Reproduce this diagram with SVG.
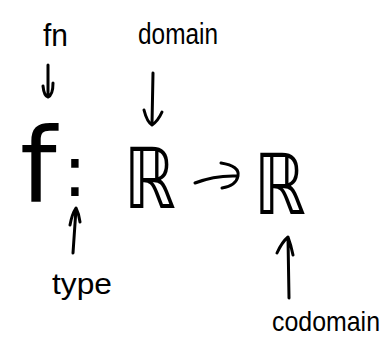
<svg xmlns="http://www.w3.org/2000/svg" width="392" height="344" viewBox="0 0 392 344">
<style>
.lbl{font-family:"Liberation Sans","DejaVu Sans",sans-serif;fill:#000}
.math{font-family:"DejaVu Sans","Liberation Sans",sans-serif;fill:#000}
.stroke{fill:none;stroke:#000;stroke-width:3;stroke-linecap:round;stroke-linejoin:round}
</style>
<rect width="392" height="344" fill="#fff"/>
<g id="label-fn"><text class="lbl" x="43" y="46" font-size="32" textLength="25" lengthAdjust="spacingAndGlyphs">fn</text></g>
<g id="label-domain"><text class="lbl" x="138" y="44" font-size="30" textLength="80" lengthAdjust="spacingAndGlyphs">domain</text></g>
<g id="formula">
<text class="math" x="20" y="202" font-size="104">f</text>
<text class="math" x="75" y="196" font-size="72" text-anchor="middle">:</text>
<text id="domain-set" class="math" x="124" y="208" font-size="84" textLength="52" lengthAdjust="spacingAndGlyphs">ℝ</text>
<text id="codomain-set" class="math" x="254" y="214" font-size="84" textLength="52" lengthAdjust="spacingAndGlyphs">ℝ</text>
</g>
<g id="label-type"><text class="lbl" x="52" y="294" font-size="30" textLength="60" lengthAdjust="spacingAndGlyphs">type</text></g>
<g id="label-codomain"><text class="lbl" x="272" y="331" font-size="28" textLength="108" lengthAdjust="spacingAndGlyphs">codomain</text></g>
<g id="connectors">
<path class="stroke" d="M48 65 L48 96 M43 86 Q44 96 48 97 Q53 95 53 83"/>
<path class="stroke" d="M153 73 L152 124 M144 110 Q147 122 152 125 Q158 121 162 112"/>
<path class="stroke" d="M195 183 Q215 175 238 176 M221 163 Q240 166 238 176 Q236 186 222 188"/>
<path class="stroke" d="M73 253 L76 209 M70 225 Q72 214 76 208 Q79 214 80 222"/>
<path class="stroke" d="M289 298 L288 238 M277 253 Q282 242 288 237 Q291 245 293 255"/>
</g>
</svg>
